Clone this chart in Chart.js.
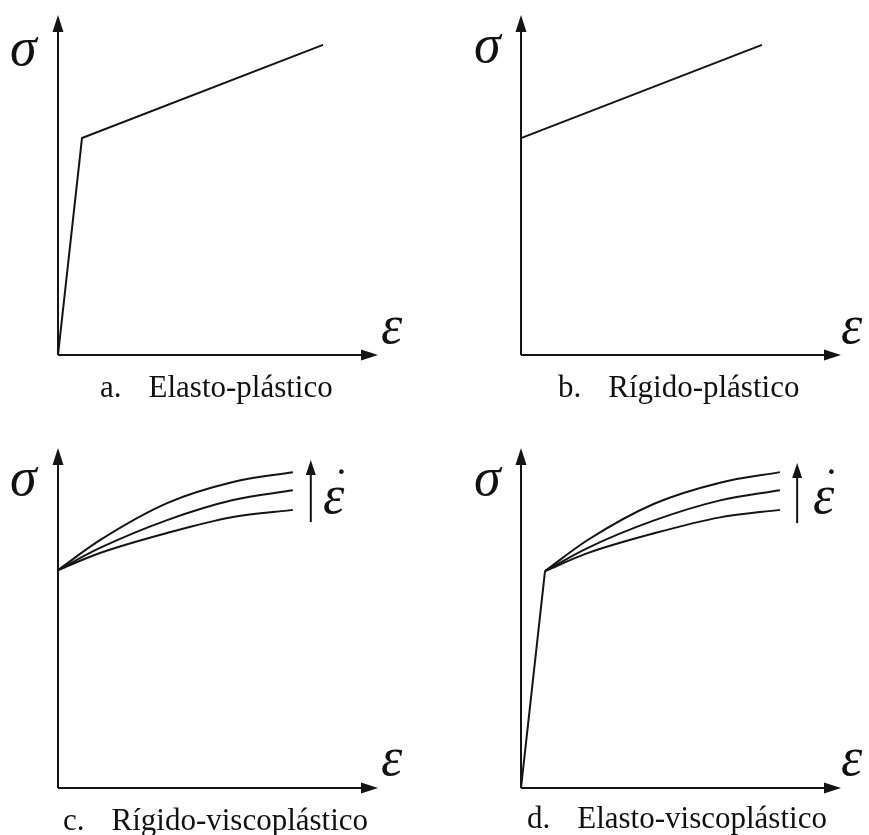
<!DOCTYPE html>
<html>
<head>
<meta charset="utf-8">
<script src="https://cdn.jsdelivr.net/npm/chart.js@4"></script>
<style>
  body { margin: 0; background: #fff; }
  #lamina { position: relative; width: 869px; height: 835px; overflow: hidden; }
  #lamina canvas { position: absolute; }
  .sym, .pie { position: absolute; font-family: "Liberation Serif", "DejaVu Serif", serif; color: #111; line-height: 1; white-space: nowrap; }
  .sym { font-style: italic; font-size: 54px; }
  .pie { font-size: 31px; }
  .pie span + span { margin-left: 27px; }
  .sym .punto { position: absolute; left: 11px; top: -5px; font-style: normal; font-size: 44px; }
</style>
</head>
<body>
<div id="lamina">
  <canvas id="g1" width="435" height="418" style="left:0;top:0"></canvas>
  <canvas id="g2" width="434" height="418" style="left:435px;top:0"></canvas>
  <canvas id="g3" width="435" height="417" style="left:0;top:418px"></canvas>
  <canvas id="g4" width="434" height="417" style="left:435px;top:418px"></canvas>

  <div class="sym" style="left:10px;top:20px">σ</div>
  <div class="sym" style="left:381px;top:298px">ε</div>
  <div class="pie" style="left:100px;top:371px"><span>a.</span><span>Elasto-plástico</span></div>

  <div class="sym" style="left:474px;top:17px">σ</div>
  <div class="sym" style="left:841px;top:298px">ε</div>
  <div class="pie" style="left:558px;top:371px"><span>b.</span><span>Rígido-plástico</span></div>

  <div class="sym" style="left:10px;top:450px">σ</div>
  <div class="sym" style="left:381px;top:730px">ε</div>
  <div class="sym" style="left:323px;top:468px">ε<span class="punto">˙</span></div>
  <div class="pie" style="left:63px;top:804px"><span>c.</span><span>Rígido-viscoplástico</span></div>

  <div class="sym" style="left:474px;top:450px">σ</div>
  <div class="sym" style="left:841px;top:730px">ε</div>
  <div class="sym" style="left:813px;top:468px">ε<span class="punto">˙</span></div>
  <div class="pie" style="left:527px;top:802px"><span>d.</span><span>Elasto-viscoplástico</span></div>
</div>

<script>
// deformación (ε) y tensión (σ), unidades arbitrarias 0..10 en cada eje

// a. elasto-plástico
const epsA = [0, 0.75, 8.28];
const sigA = [0, 6.38, 9.12];

// b. rígido-plástico
const epsB = [0, 7.53];
const sigB = [6.38, 9.12];

// c. rígido-viscoplástico: tres velocidades de deformación
const epsC = [0, 1.31, 3.41, 5.47, 7.34];
const sigC1 = [6.41, 6.91, 7.50, 7.97, 8.18];
const sigC2 = [6.41, 7.06, 7.88, 8.47, 8.76];
const sigC3 = [6.41, 7.29, 8.38, 9.00, 9.29];
const flechaC = [7.9, 7.82, 9.65];   // [ε, σ inicio, σ punta]

// d. elasto-viscoplástico
const epsD0 = [0, 0.75];
const sigD0 = [0, 6.38];
const epsD = [0.75, 2.06, 4.16, 6.22, 8.09];
const sigD1 = [6.38, 6.90, 7.49, 7.96, 8.18];
const sigD2 = [6.38, 7.05, 7.87, 8.46, 8.76];
const sigD3 = [6.38, 7.28, 8.36, 8.98, 9.29];
const flechaD = [8.63, 7.79, 9.56];

const tinta = '#141414';

function puntos(xs, ys) {
    return xs.map((v, i) => ({ x: v, y: ys[i] }));
}

function serie(xs, ys, curva) {
    return {
        data: puntos(xs, ys),
        showLine: true,
        borderColor: tinta,
        borderWidth: 2,
        pointRadius: 0,
        tension: 0,
        cubicInterpolationMode: curva ? 'monotone' : 'default',
        clip: false
    };
}

function punta(ctx, x, y, dir, largo, ancho) {
    ctx.beginPath();
    if (dir === 'arriba') {
        ctx.moveTo(x, y);
        ctx.lineTo(x - ancho, y + largo);
        ctx.lineTo(x + ancho, y + largo);
    } else {
        ctx.moveTo(x, y);
        ctx.lineTo(x - largo, y - ancho);
        ctx.lineTo(x - largo, y + ancho);
    }
    ctx.closePath();
    ctx.fill();
}

// ejes con flecha y flecha de velocidad de deformación
const ejes = {
    id: 'ejes',
    afterDatasetsDraw(chart, args, opts) {
        const { ctx, chartArea, scales } = chart;
        const { left, right, top, bottom } = chartArea;
        ctx.save();
        ctx.strokeStyle = tinta;
        ctx.fillStyle = tinta;
        ctx.lineWidth = 2;
        ctx.beginPath();
        ctx.moveTo(left, bottom);
        ctx.lineTo(left, top + 12);
        ctx.moveTo(left, bottom);
        ctx.lineTo(right - 12, bottom);
        ctx.stroke();
        punta(ctx, left, top, 'arriba', 17, 5.5);
        punta(ctx, right, bottom, 'derecha', 17, 5.5);

        if (opts.flecha) {
            const fx = scales.x.getPixelForValue(opts.flecha[0]);
            const y0 = scales.y.getPixelForValue(opts.flecha[1]);
            const y1 = scales.y.getPixelForValue(opts.flecha[2]);
            ctx.beginPath();
            ctx.moveTo(fx, y0);
            ctx.lineTo(fx, y1 + 10);
            ctx.stroke();
            punta(ctx, fx, y1, 'arriba', 15, 5);
        }
        ctx.restore();
    }
};

function grafico(id, datasets, padding, flecha) {
    return new Chart(document.getElementById(id), {
        type: 'scatter',
        data: { datasets: datasets },
        options: {
            responsive: false,
            animation: false,
            devicePixelRatio: 1,
            layout: { padding: padding },
            scales: {
                x: { type: 'linear', min: 0, max: 10, display: false },
                y: { type: 'linear', min: 0, max: 10, display: false }
            },
            plugins: {
                legend: { display: false },
                tooltip: { enabled: false },
                ejes: { flecha: flecha }
            }
        },
        plugins: [ejes]
    });
}

grafico('g1', [serie(epsA, sigA, false)],
    { left: 58, right: 57, top: 15, bottom: 63 });

grafico('g2', [serie(epsB, sigB, false)],
    { left: 86, right: 28, top: 15, bottom: 63 });

grafico('g3', [
    serie(epsC, sigC1, true),
    serie(epsC, sigC2, true),
    serie(epsC, sigC3, true)
], { left: 58, right: 57, top: 30, bottom: 47 }, flechaC);

grafico('g4', [
    serie(epsD0, sigD0, false),
    serie(epsD, sigD1, true),
    serie(epsD, sigD2, true),
    serie(epsD, sigD3, true)
], { left: 86, right: 28, top: 30, bottom: 47 }, flechaD);
</script>
</body>
</html>
